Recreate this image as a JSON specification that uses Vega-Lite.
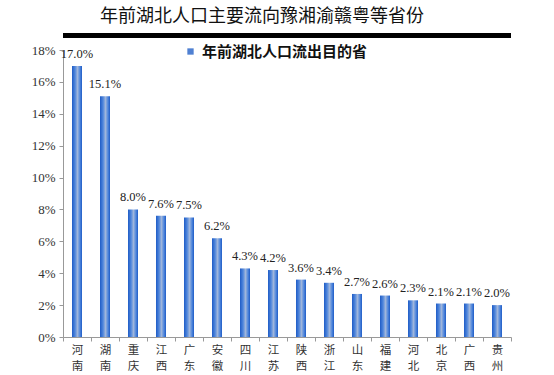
{
  "$schema": "https://vega.github.io/schema/vega-lite/v6.json",
  "width": 448,
  "height": 287,
  "autosize": {"type": "none"},
  "padding": {"left": 63, "top": 50, "right": 43, "bottom": 38},
  "background": "white",
  "config": {"view": {"stroke": null}},
  "title": {
    "text": "年前湖北人口主要流向豫湘渝赣粤等省份",
    "frame": "group",
    "anchor": "middle",
    "dx": -25,
    "offset": 7,
    "font": "Noto Sans CJK SC",
    "fontSize": 18,
    "fontWeight": "normal",
    "color": "#111"
  },
  "data": {
    "values": [
      {"p": "河南", "v": 0.170, "s": "年前湖北人口流出目的省"},
      {"p": "湖南", "v": 0.151, "s": "年前湖北人口流出目的省"},
      {"p": "重庆", "v": 0.080, "s": "年前湖北人口流出目的省"},
      {"p": "江西", "v": 0.076, "s": "年前湖北人口流出目的省"},
      {"p": "广东", "v": 0.075, "s": "年前湖北人口流出目的省"},
      {"p": "安徽", "v": 0.062, "s": "年前湖北人口流出目的省"},
      {"p": "四川", "v": 0.043, "s": "年前湖北人口流出目的省"},
      {"p": "江苏", "v": 0.042, "s": "年前湖北人口流出目的省"},
      {"p": "陕西", "v": 0.036, "s": "年前湖北人口流出目的省"},
      {"p": "浙江", "v": 0.034, "s": "年前湖北人口流出目的省"},
      {"p": "山东", "v": 0.027, "s": "年前湖北人口流出目的省"},
      {"p": "福建", "v": 0.026, "s": "年前湖北人口流出目的省"},
      {"p": "河北", "v": 0.023, "s": "年前湖北人口流出目的省"},
      {"p": "北京", "v": 0.021, "s": "年前湖北人口流出目的省"},
      {"p": "广西", "v": 0.021, "s": "年前湖北人口流出目的省"},
      {"p": "贵州", "v": 0.020, "s": "年前湖北人口流出目的省"}
    ]
  },
  "encoding": {
    "x": {
      "field": "p",
      "type": "nominal",
      "sort": null,
      "scale": {"paddingInner": 0, "paddingOuter": 0},
      "axis": {
        "title": null,
        "labelAngle": 0,
        "labelExpr": "split(datum.label, '')",
        "labelFont": "Noto Sans CJK SC",
        "labelFontSize": 11.5,
        "labelColor": "#333",
        "labelLineHeight": 16,
        "labelPadding": 3,
        "labelBaseline": "top",
        "tickBand": "extent",
        "tickSize": 4,
        "tickColor": "#999",
        "domainColor": "#999"
      }
    },
    "y": {
      "field": "v",
      "type": "quantitative",
      "scale": {"domain": [0, 0.18], "nice": false},
      "axis": {
        "title": null,
        "format": ".0%",
        "values": [0, 0.02, 0.04, 0.06, 0.08, 0.1, 0.12, 0.14, 0.16, 0.18],
        "grid": false,
        "labelFont": "Liberation Serif",
        "labelFontSize": 13,
        "labelColor": "#333",
        "tickSize": 4,
        "tickColor": "#999",
        "domainColor": "#999",
        "labelPadding": 4
      }
    }
  },
  "layer": [
    {
      "mark": {
        "type": "bar",
        "size": 10,
        "color": {
          "gradient": "linear",
          "x1": 0, "x2": 1, "y1": 0, "y2": 0,
          "stops": [
            {"offset": 0, "color": "#1f5cc6"},
            {"offset": 0.3, "color": "#4f86dc"},
            {"offset": 0.55, "color": "#9fb6dc"},
            {"offset": 0.8, "color": "#4f86dc"},
            {"offset": 1, "color": "#1f5cc6"}
          ]
        }
      }
    },
    {
      "mark": {
        "type": "text",
        "dy": -5,
        "baseline": "bottom",
        "font": "Liberation Serif",
        "fontSize": 12.5,
        "color": "#222"
      },
      "encoding": {
        "text": {"field": "v", "type": "quantitative", "format": ".1%"}
      }
    },
    {
      "mark": {"type": "square", "opacity": 0, "size": 1},
      "encoding": {
        "color": {
          "field": "s",
          "type": "nominal",
          "scale": {"range": ["#4f80d2"]},
          "legend": {
            "title": null,
            "orient": "none",
            "legendX": 120,
            "legendY": -6,
            "symbolType": "square",
            "symbolSize": 40,
            "symbolOpacity": 1,
            "symbolStrokeWidth": 0,
            "labelFont": "Noto Sans CJK SC",
            "labelFontSize": 15,
            "labelFontWeight": "bold",
            "labelColor": "#111",
            "labelOffset": 4,
            "labelLimit": 400
          }
        }
      }
    },
    {
      "mark": {"type": "rule", "strokeWidth": 4, "color": "#000", "clip": false},
      "encoding": {
        "x": null,
        "y": {"datum": 0.1893, "type": "quantitative"}
      }
    }
  ]
}
